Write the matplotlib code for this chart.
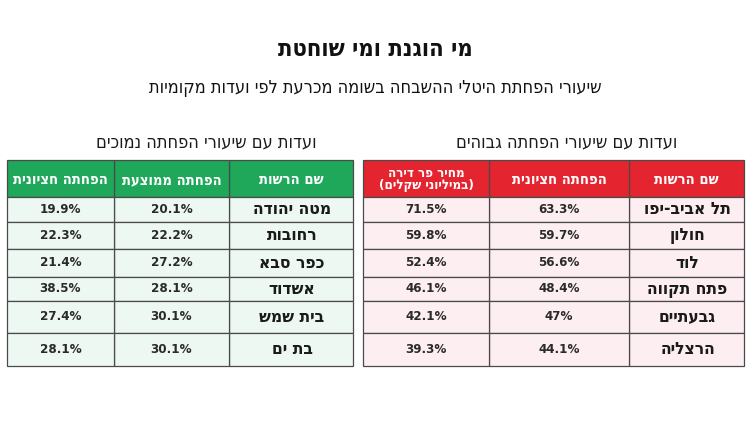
import matplotlib
matplotlib.use('Agg')
import matplotlib.pyplot as plt
from matplotlib.patches import Rectangle

plt.rcParams['font.family'] = ['DejaVu Sans']
plt.rcParams['font.stretch'] = 'condensed'

# נתונים
title = 'מי הוגנת ומי שוחטת'
subtitle = 'שיעורי הפחתת היטלי ההשבחה בשומה מכרעת לפי ועדות מקומיות'

high_title = 'ועדות עם שיעורי הפחתה גבוהים'
high_cols = ['שם הרשות', 'הפחתה חציונית', 'מחיר פר דירה\n(במיליוני שקלים)']
high_names = ['תל אביב-יפו', 'חולון', 'לוד', 'פתח תקווה', 'גבעתיים', 'הרצליה']
high_median = ['63.3%', '59.7%', '56.6%', '48.4%', '47%', '44.1%']
high_price = ['71.5%', '59.8%', '52.4%', '46.1%', '42.1%', '39.3%']

low_title = 'ועדות עם שיעורי הפחתה נמוכים'
low_cols = ['שם הרשות', 'הפחתה ממוצעת', 'הפחתה חציונית']
low_names = ['מטה יהודה', 'רחובות', 'כפר סבא', 'אשדוד', 'בית שמש', 'בת ים']
low_mean = ['20.1%', '22.2%', '27.2%', '28.1%', '30.1%', '30.1%']
low_median = ['19.9%', '22.3%', '21.4%', '38.5%', '27.4%', '28.1%']


def heb(s):
    # matplotlib אינו מבצע bidi - הופכים את סדר התווים
    lines = s.split('\n')
    return '\n'.join(l[::-1].translate(str.maketrans('()', ')(')) for l in lines)


row_edges = [197, 222, 249, 277, 301, 333, 366]
head_top = 160


def draw_table(ax, x_edges, cols, columns, head_color, row_color, heading, heading_x):
    # x_edges משמאל לימין, העמודה הראשונה (שם הרשות) בצד ימין
    ax.text(heading_x, 142, heb(heading), ha='center', va='center',
            fontsize=13, color='#1a1a1a')
    n = len(cols)
    for k in range(n):
        # עמודה k מימין
        x0 = x_edges[n - 1 - k]
        x1 = x_edges[n - k]
        ax.add_patch(Rectangle((x0, head_top), x1 - x0, row_edges[0] - head_top,
                               facecolor=head_color, edgecolor='#4a4a4a', lw=0.9))
        two = '\n' in cols[k]
        ax.text((x0 + x1) / 2, (head_top + row_edges[0]) / 2 + 1, heb(cols[k]), ha='center',
                va='center', color='white', fontsize=9.5 if two else 10.5,
                fontweight='bold', linespacing=0.95)
        for r in range(len(columns[k])):
            y0, y1 = row_edges[r], row_edges[r + 1]
            ax.add_patch(Rectangle((x0, y0), x1 - x0, y1 - y0,
                                   facecolor=row_color, edgecolor='#4a4a4a', lw=0.9))
            val = columns[k][r]
            if k == 0:
                ax.text((x0 + x1) / 2 + 1, (y0 + y1) / 2, heb(val), ha='center', va='center',
                        fontsize=12.5, fontweight='bold', color='#1a1a1a')
            else:
                ax.text((x0 + x1) / 2, (y0 + y1) / 2, val, ha='center', va='center',
                        fontsize=9.5, fontweight='bold', color='#2a2a2a')


fig = plt.figure(figsize=(7.5, 4.22), dpi=100)
ax = fig.add_axes([0, 0, 1, 1])
ax.set_xlim(0, 750)
ax.set_ylim(422, 0)
ax.axis('off')
fig.patch.set_facecolor('white')

ax.text(375, 49, heb(title), ha='center', va='center', fontsize=17, fontweight='bold',
        color='#111111')
ax.text(375, 88, heb(subtitle), ha='center', va='center', fontsize=13, color='#111111')

draw_table(ax, [363, 489, 629, 744], high_cols, [high_names, high_median, high_price],
           '#e4252f', '#fdeff1', high_title, 567)
draw_table(ax, [7, 114, 229, 353], low_cols, [low_names, low_mean, low_median],
           '#1fa85a', '#eef8f3', low_title, 206)

fig.savefig('out.png', dpi=100, facecolor='white')
